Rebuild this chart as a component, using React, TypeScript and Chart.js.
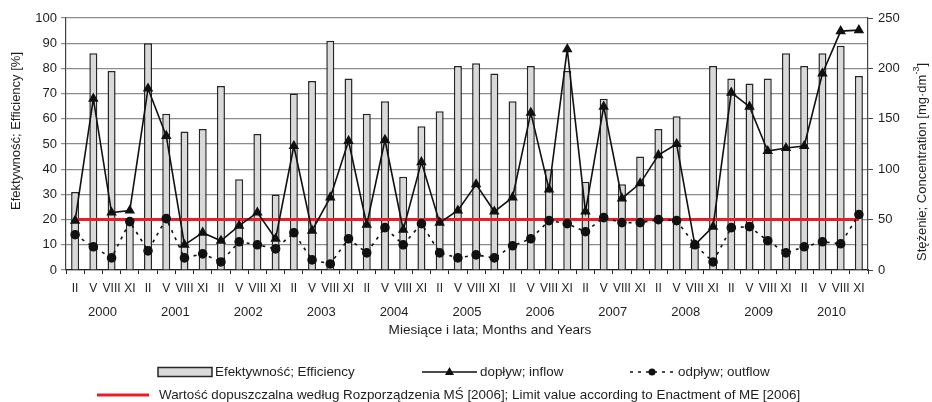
import React, { useEffect, useRef } from 'react';
import { Chart, registerables } from 'chart.js';

Chart.register(...registerables);

// ---------- data ----------
const MONTHS = ['II', 'V', 'VIII', 'XI'];
const YEARS = ['2000', '2001', '2002', '2003', '2004', '2005', '2006', '2007', '2008', '2009', '2010'];

// Efficiency [%] (left axis)
const EFFICIENCY = [
  31, 86, 79, 19,
  90, 62, 55, 56,
  73, 36, 54, 30,
  70, 75, 91, 76,
  62, 67, 37, 57,
  63, 81, 82, 78,
  67, 81, 40, 79,
  35, 68, 34, 45,
  56, 61, 11, 81,
  76, 74, 76, 86,
  81, 86, 89, 77,
];

// Inflow concentration [mg/dm3] (right axis)
const INFLOW = [
  49, 170, 57, 59,
  180, 133, 25, 37,
  29, 44, 57, 31,
  123, 39, 72, 128,
  45, 129, 40, 107,
  47, 59, 85, 58,
  72, 156, 80, 219,
  58, 162, 71, 86,
  114, 125, 25, 43,
  176, 162, 118, 121,
  123, 195, 237, 238,
];

// Outflow concentration [mg/dm3] (right axis)
const OUTFLOW = [
  35, 23, 12, 48,
  19, 51, 12, 16,
  8, 28, 25, 21,
  37, 10, 6, 31,
  17, 42, 25, 46,
  17, 12, 15, 12,
  24, 31, 49, 46,
  38, 52, 47, 47,
  50, 49, 25, 8,
  42, 43, 29, 17,
  23, 28, 26, 55,
];

const LIMIT_VALUE = 50;

const LABEL_EFF = 'Efektywność; Efficiency';
const LABEL_IN = 'dopływ; inflow';
const LABEL_OUT = 'odpływ; outflow';
const LABEL_LIMIT = 'Wartość dopuszczalna według Rozporządzenia MŚ [2006]; Limit value according to Enactment of ME [2006]';
const TITLE_LEFT = 'Efektywność; Efficiency [%]';
const TITLE_RIGHT_MAIN = 'Stężenie; Concentration [mg·dm';
const TITLE_RIGHT_SUP = '-3';
const TITLE_RIGHT_END = ']';
const TITLE_X = 'Miesiące i lata; Months and Years';

// ---------- style ----------
const FONT = "'Liberation Sans', Arial, Helvetica, sans-serif";
const TEXT = '#1e1e1e';
const BAR_FILL = '#d9d9d9';
const BAR_EDGE = '#262626';
const LINE = '#111111';
const RED = '#ee1c25';

const decorPlugin = {
  id: 'decor',
  afterDraw(chart: any) {
    const ctx: CanvasRenderingContext2D = chart.ctx;
    ctx.save();
    ctx.fillStyle = TEXT;
    ctx.font = `13px ${FONT}`;
    ctx.textBaseline = 'middle';

    // left title
    ctx.save();
    ctx.translate(16, 131);
    ctx.rotate(-Math.PI / 2);
    ctx.textAlign = 'center';
    ctx.fillText(TITLE_LEFT, 0, 0);
    ctx.restore();

    // right title with superscript
    ctx.save();
    ctx.translate(922, 162);
    ctx.rotate(-Math.PI / 2);
    ctx.textAlign = 'left';
    ctx.font = `13px ${FONT}`;
    const w1 = ctx.measureText(TITLE_RIGHT_MAIN).width;
    ctx.font = `9px ${FONT}`;
    const w2 = ctx.measureText(TITLE_RIGHT_SUP).width;
    ctx.font = `13px ${FONT}`;
    const w3 = ctx.measureText(TITLE_RIGHT_END).width;
    let sx = -(w1 + w2 + w3) / 2;
    ctx.fillText(TITLE_RIGHT_MAIN, sx, 0);
    sx += w1;
    ctx.font = `9px ${FONT}`;
    ctx.fillText(TITLE_RIGHT_SUP, sx, -5);
    sx += w2;
    ctx.font = `13px ${FONT}`;
    ctx.fillText(TITLE_RIGHT_END, sx, 0);
    ctx.restore();

    // x title
    ctx.textAlign = 'center';
    ctx.font = `13.6px ${FONT}`;
    ctx.fillText(TITLE_X, 490, 330);

    // legend row 1
    ctx.font = `13.4px ${FONT}`;
    const y1 = 372;
    ctx.textAlign = 'left';
    // efficiency box
    ctx.fillStyle = BAR_FILL;
    ctx.fillRect(158, y1 - 4.5, 54, 9);
    ctx.strokeStyle = BAR_EDGE;
    ctx.lineWidth = 1.5;
    ctx.strokeRect(158, y1 - 4.5, 54, 9);
    ctx.fillStyle = TEXT;
    ctx.fillText(LABEL_EFF, 215, y1);

    // inflow
    ctx.strokeStyle = LINE;
    ctx.lineWidth = 1.6;
    ctx.beginPath();
    ctx.moveTo(422, y1);
    ctx.lineTo(477, y1);
    ctx.stroke();
    ctx.fillStyle = LINE;
    ctx.beginPath();
    ctx.moveTo(449.5, y1 - 5);
    ctx.lineTo(454, y1 + 3);
    ctx.lineTo(445, y1 + 3);
    ctx.closePath();
    ctx.fill();
    ctx.fillStyle = TEXT;
    ctx.fillText(LABEL_IN, 480, y1);

    // outflow
    ctx.strokeStyle = LINE;
    ctx.setLineDash([3, 5]);
    ctx.beginPath();
    ctx.moveTo(630, y1);
    ctx.lineTo(674, y1);
    ctx.stroke();
    ctx.setLineDash([]);
    ctx.fillStyle = LINE;
    ctx.beginPath();
    ctx.arc(652, y1, 3.5, 0, Math.PI * 2);
    ctx.fill();
    ctx.fillStyle = TEXT;
    ctx.fillText(LABEL_OUT, 678, y1);

    // legend row 2
    const y2 = 395;
    ctx.strokeStyle = RED;
    ctx.lineWidth = 3;
    ctx.beginPath();
    ctx.moveTo(97, y2);
    ctx.lineTo(149, y2);
    ctx.stroke();
    ctx.fillStyle = TEXT;
    ctx.fillText(LABEL_LIMIT, 159, y2);

    ctx.restore();
  },
};

export default function App() {
  const ref = useRef<HTMLCanvasElement | null>(null);

  useEffect(() => {
    document.body.style.margin = '0';
    const canvas = ref.current;
    if (!canvas) return;
    const labels = YEARS.flatMap(() => MONTHS);
    const tickFont = { family: FONT, size: 13 };

    const chart = new Chart(canvas, {
      data: {
        labels,
        datasets: [
          {
            type: 'line',
            label: LABEL_IN,
            data: INFLOW,
            yAxisID: 'y1',
            borderColor: LINE,
            borderWidth: 1.6,
            pointStyle: 'triangle',
            pointRadius: 4.5,
            pointBackgroundColor: LINE,
            pointBorderColor: LINE,
            tension: 0,
            order: 1,
          },
          {
            type: 'line',
            label: LABEL_OUT,
            data: OUTFLOW,
            yAxisID: 'y1',
            borderColor: LINE,
            borderWidth: 1.6,
            borderDash: [3, 5],
            pointStyle: 'circle',
            pointRadius: 4,
            pointBackgroundColor: LINE,
            pointBorderColor: LINE,
            tension: 0,
            order: 2,
          },
          {
            type: 'line',
            label: LABEL_LIMIT,
            data: labels.map(() => LIMIT_VALUE),
            yAxisID: 'y1',
            borderColor: RED,
            borderWidth: 3,
            pointRadius: 0,
            order: 3,
          },
          {
            type: 'bar',
            label: LABEL_EFF,
            data: EFFICIENCY,
            yAxisID: 'y',
            backgroundColor: BAR_FILL,
            borderColor: BAR_EDGE,
            borderWidth: 1.5,
            barPercentage: 0.44,
            categoryPercentage: 1,
            order: 4,
          },
        ],
      } as any,
      options: {
        responsive: false,
        animation: false,
        layout: { padding: { top: 18, bottom: 54, left: 0, right: 0 } },
        plugins: { legend: { display: false }, tooltip: { enabled: false } },
        scales: {
          x: {
            type: 'category',
            position: 'bottom',
            weight: 0,
            offset: true,
            grid: { offset: true, drawOnChartArea: false, tickLength: 4, color: '#222', lineWidth: 1 },
            border: { color: '#222', width: 1.2 },
            ticks: { autoSkip: false, maxRotation: 0, minRotation: 0, padding: 7, font: { family: FONT, size: 12 }, color: TEXT },
            afterFit: (s: any) => { s.height = 28; },
          },
          x2: {
            type: 'linear',
            position: 'bottom',
            weight: 1,
            min: -0.5,
            max: 43.5,
            grid: { display: false, drawTicks: false },
            border: { display: false },
            afterBuildTicks: (s: any) => { s.ticks = YEARS.map((_, k) => ({ value: 1.5 + 4 * k })); },
            ticks: {
              autoSkip: false,
              maxRotation: 0,
              minRotation: 0,
              padding: 7,
              font: tickFont,
              color: TEXT,
              callback: (v: any) => YEARS[Math.round((Number(v) - 1.5) / 4)] ?? '',
            },
            afterFit: (s: any) => { s.height = 50; },
          },
          y: {
            position: 'left',
            min: 0,
            max: 100,
            grid: { color: '#8c8c8c', lineWidth: 1.2, tickLength: 5 },
            border: { color: '#444', width: 1.2 },
            ticks: { stepSize: 10, padding: 4, font: tickFont, color: TEXT },
            afterFit: (s: any) => { s.width = 66; },
          },
          y1: {
            position: 'right',
            min: 0,
            max: 250,
            grid: { drawOnChartArea: false, tickLength: 5, color: '#444' },
            border: { color: '#444', width: 1.2 },
            ticks: { stepSize: 50, padding: 5, font: tickFont, color: TEXT },
            afterFit: (s: any) => { s.width = 64; },
          },
        },
      } as any,
      plugins: [decorPlugin],
    });

    return () => chart.destroy();
  }, []);

  return <canvas ref={ref} width={932} height={402} style={{ display: 'block' }} />;
}
